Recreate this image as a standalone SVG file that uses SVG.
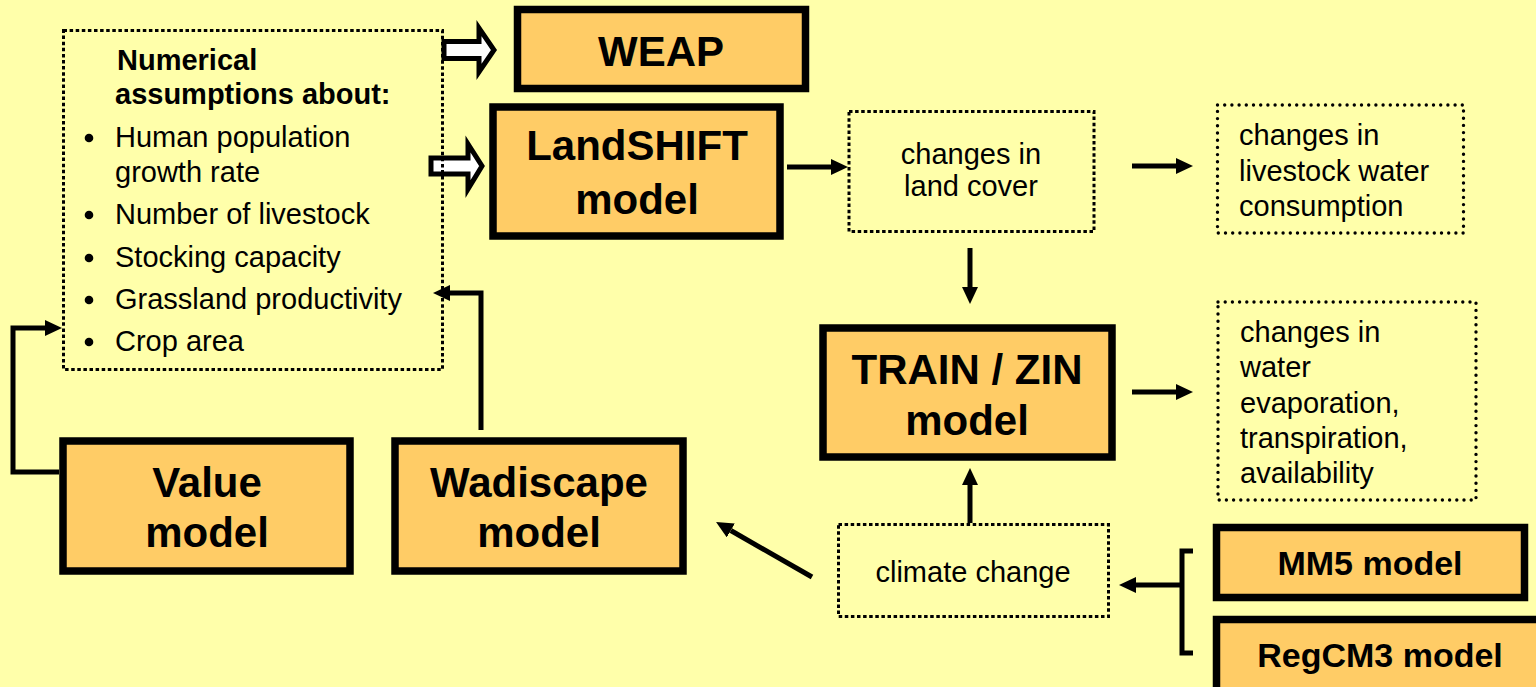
<svg xmlns="http://www.w3.org/2000/svg" width="1536" height="687" viewBox="0 0 1536 687">
<style>
.bg{fill:#FFFFAA}
.model{fill:#FFCC66;stroke:#000;stroke-width:7.5}
.sq{fill:none;stroke:#000;stroke-width:3;stroke-dasharray:3.5 2.6}
.rd{fill:none;stroke:#000;stroke-width:3.4;stroke-linecap:round;stroke-dasharray:0 7.2}
.bt{font-family:"Liberation Sans",Arial,sans-serif;font-weight:bold;font-size:42px;fill:#000;text-anchor:middle}
.bs{font-family:"Liberation Sans",Arial,sans-serif;font-weight:bold;font-size:34px;fill:#000;text-anchor:middle}
.t{font-family:"Liberation Sans",Arial,sans-serif;font-size:29px;fill:#000}
.tb{font-family:"Liberation Sans",Arial,sans-serif;font-weight:bold;font-size:29px;fill:#000}
.c{fill:none;stroke:#000;stroke-width:5}
.hollow{fill:#fff;stroke:#000;stroke-width:5;stroke-linejoin:miter}
</style>
<defs>
<marker id="ah" markerUnits="userSpaceOnUse" markerWidth="18" markerHeight="17" refX="0" refY="8" orient="auto">
<path d="M0,0 L17,8 L0,16 Z" fill="#000"/>
</marker>
</defs>
<rect class="bg" x="0" y="0" width="1536" height="687"/>

<g id="connectors">
<polygon class="hollow" points="444,41.5 479,41.5 479,28 494,50 479,72 479,58.5 444,58.5"/>
<polygon class="hollow" points="431,158 468,158 468,144 482,166 468,189 468,174 431,174"/>
<path class="c" d="M787,167 H831" marker-end="url(#ah)"/>
<path class="c" d="M1132,166 H1176" marker-end="url(#ah)"/>
<path class="c" d="M970,248 V287" marker-end="url(#ah)"/>
<path class="c" d="M1132,392 H1176" marker-end="url(#ah)"/>
<path class="c" d="M970,523 V485" marker-end="url(#ah)"/>
<path class="c" d="M1193,551 H1182 V653 H1193"/>
<path class="c" d="M1182,585 H1136" marker-end="url(#ah)"/>
<path class="c" d="M812,577 L730.8,530.5" marker-end="url(#ah)"/>
<path class="c" d="M481,430 V293 H450" marker-end="url(#ah)"/>
<path class="c" d="M59,472 H13 V328 H45" marker-end="url(#ah)"/>
</g>

<g id="assumptions">
<rect class="sq" x="63.5" y="30.5" width="379" height="339"/>
<text class="tb" x="117" y="70">Numerical</text>
<text class="tb" x="115" y="104">assumptions about:</text>
<circle cx="89" cy="138" r="4.3"/>
<text class="t" x="115" y="147">Human population</text>
<text class="t" x="115" y="182">growth rate</text>
<circle cx="89" cy="215" r="4.3"/>
<text class="t" x="115" y="224">Number of livestock</text>
<circle cx="89" cy="258" r="4.3"/>
<text class="t" x="115" y="267">Stocking capacity</text>
<circle cx="89" cy="300" r="4.3"/>
<text class="t" x="115" y="309">Grassland productivity</text>
<circle cx="89" cy="342" r="4.3"/>
<text class="t" x="115" y="351">Crop area</text>
</g>

<g id="weap">
<rect class="model" x="517.5" y="9.5" width="288" height="79"/>
<text class="bt" x="661" y="66">WEAP</text>
</g>

<g id="landshift">
<rect class="model" x="493" y="107" width="287" height="129"/>
<text class="bt" x="637" y="160">LandSHIFT</text>
<text class="bt" x="637" y="214">model</text>
</g>

<g id="landcover">
<rect class="sq" x="849" y="111.5" width="245" height="120"/>
<text class="t" x="971" y="164" text-anchor="middle">changes in</text>
<text class="t" x="971" y="196" text-anchor="middle">land cover</text>
</g>

<g id="livestock">
<rect class="rd" x="1217.5" y="105" width="246" height="128"/>
<text class="t" x="1239" y="145">changes in</text>
<text class="t" x="1239" y="181">livestock water</text>
<text class="t" x="1239" y="216">consumption</text>
</g>

<g id="trainzin">
<rect class="model" x="823" y="328" width="289" height="129"/>
<text class="bt" x="967" y="384">TRAIN / ZIN</text>
<text class="bt" x="967" y="435">model</text>
</g>

<g id="water">
<rect class="rd" x="1218" y="302" width="258" height="198"/>
<text class="t" x="1240" y="342">changes in</text>
<text class="t" x="1240" y="377">water</text>
<text class="t" x="1240" y="413">evaporation,</text>
<text class="t" x="1240" y="448">transpiration,</text>
<text class="t" x="1240" y="483">availability</text>
</g>

<g id="climate">
<rect class="sq" x="838.5" y="524.5" width="270" height="92"/>
<text class="t" x="973" y="582" text-anchor="middle">climate change</text>
</g>

<g id="value">
<rect class="model" x="63" y="441" width="287" height="130"/>
<text class="bt" x="207" y="497">Value</text>
<text class="bt" x="207" y="547">model</text>
</g>

<g id="wadiscape">
<rect class="model" x="395" y="441" width="288" height="130"/>
<text class="bt" x="539" y="497">Wadiscape</text>
<text class="bt" x="539" y="547">model</text>
</g>

<g id="mm5">
<rect class="model" x="1216.5" y="527.5" width="308" height="70"/>
<text class="bs" x="1370" y="575">MM5 model</text>
</g>

<g id="regcm3">
<rect class="model" x="1216.5" y="619.5" width="340" height="100"/>
<text class="bs" x="1380" y="667">RegCM3 model</text>
</g>
</svg>
